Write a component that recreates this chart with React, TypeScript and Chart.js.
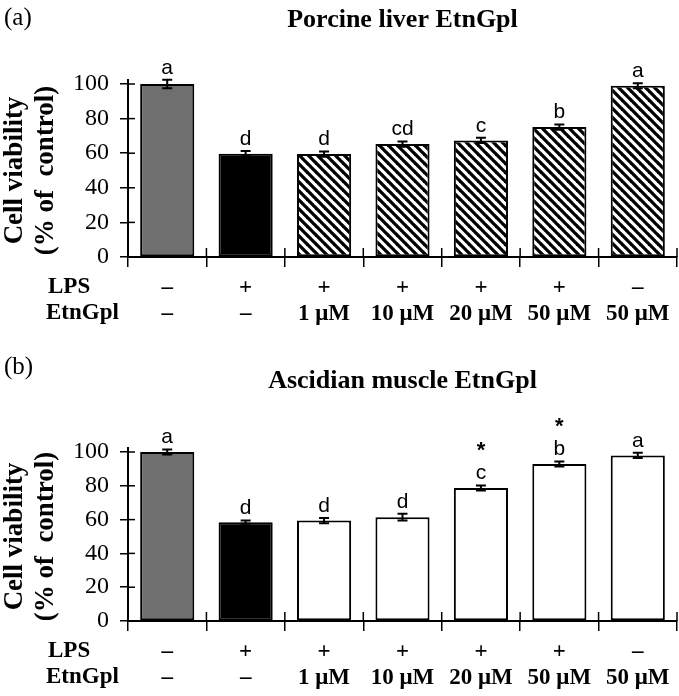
import React, { useEffect, useRef } from "react";
import { Chart, registerables } from "chart.js";
Chart.register(...registerables);

// ---------- data ----------
const categories = ["Control", "LPS", "LPS+1", "LPS+10", "LPS+20", "LPS+50", "50 only"];
const lpsRow = ["–", "+", "+", "+", "+", "+", "–"];
const etnRow = ["–", "–", "1 μM", "10 μM", "20 μM", "50 μM", "50 μM"];
const yTickValues = [0, 20, 40, 60, 80, 100];

const porcineValues = [100, 59.7, 59.5, 65.3, 67.4, 75.1, 99.0];
const porcineErrors = [2.5, 1.5, 1.5, 1.5, 1.5, 1.5, 1.5];
const porcineLetters = ["a", "d", "d", "cd", "c", "b", "a"];
const porcineStars = [false, false, false, false, false, false, false];

const ascidianValues = [100, 58.5, 59.4, 61.4, 78.7, 92.9, 98.0];
const ascidianErrors = [1.5, 1.0, 1.5, 2.0, 1.5, 1.5, 1.5];
const ascidianLetters = ["a", "d", "d", "d", "c", "b", "a"];
const ascidianStars = [false, false, false, false, true, true, false];

const SERIF = '"Liberation Serif", "Times New Roman", serif';
const SANS = '"Liberation Sans", Arial, sans-serif';

function makeHatch(): CanvasPattern | string {
  const s = 9;
  const c = document.createElement("canvas");
  c.width = s;
  c.height = s;
  const g = c.getContext("2d");
  if (!g) return "#fff";
  g.fillStyle = "#ffffff";
  g.fillRect(0, 0, s, s);
  g.strokeStyle = "#000000";
  g.lineWidth = 3.3;
  for (const k of [-1, 0, 1]) {
    g.beginPath();
    g.moveTo(-s + k * s, -s);
    g.lineTo(2 * s + k * s, 2 * s);
    g.stroke();
  }
  const p = g.createPattern(c, "repeat");
  return p || "#fff";
}

type PanelCfg = {
  panelLabel: string;
  panelLabelY: number;
  title: string;
  titlePadTop: number;
  titlePadBottom: number;
  height: number;
  xAxisHeight: number;
  values: number[];
  errors: number[];
  letters: string[];
  stars: boolean[];
  hatched: boolean;
};

function Panel({ cfg, top }: { cfg: PanelCfg; top: number }) {
  const ref = useRef<HTMLCanvasElement>(null);
  useEffect(() => {
    const canvas = ref.current;
    if (!canvas) return;
    const hatch = makeHatch();
    const fills = cfg.values.map((_, i) =>
      i === 0 ? "#6f6f6f" : i === 1 ? "#000000" : cfg.hatched ? hatch : "#ffffff"
    );

    const annot = {
      id: "annot",
      afterDraw(chart: any) {
        const ctx = chart.ctx as CanvasRenderingContext2D;
        const area = chart.chartArea;
        const ys = chart.scales.y;
        const meta = chart.getDatasetMeta(0);
        ctx.save();
        // error bars
        ctx.strokeStyle = "#000";
        ctx.lineWidth = 2;
        cfg.values.forEach((v, i) => {
          const x = meta.data[i].x;
          const yt = ys.getPixelForValue(v + cfg.errors[i]);
          const yb = ys.getPixelForValue(v - cfg.errors[i]);
          ctx.beginPath();
          ctx.moveTo(x, yt);
          ctx.lineTo(x, yb);
          ctx.moveTo(x - 5, yt);
          ctx.lineTo(x + 5, yt);
          ctx.moveTo(x - 5, yb);
          ctx.lineTo(x + 5, yb);
          ctx.stroke();
        });
        // inner tick halves
        ctx.lineWidth = 1.5;
        yTickValues.forEach((t) => {
          const y = ys.getPixelForValue(t);
          ctx.beginPath();
          ctx.moveTo(area.left, y);
          ctx.lineTo(area.left + 7, y);
          ctx.stroke();
        });
        // small extension of y axis line above the top tick
        ctx.lineWidth = 2;
        ctx.beginPath();
        ctx.moveTo(area.left, area.top);
        ctx.lineTo(area.left, area.top - 5);
        ctx.stroke();
        ctx.lineWidth = 1.5;
        const n = cfg.values.length;
        for (let i = 1; i <= n; i++) {
          const x = area.left + (i * (area.right - area.left)) / n;
          ctx.beginPath();
          ctx.moveTo(x, area.bottom);
          ctx.lineTo(x, area.bottom - 9);
          ctx.stroke();
        }
        // letters and stars
        ctx.fillStyle = "#000";
        ctx.textAlign = "center";
        ctx.textBaseline = "alphabetic";
        cfg.values.forEach((v, i) => {
          const x = meta.data[i].x;
          const base = ys.getPixelForValue(v + cfg.errors[i]) - 6;
          ctx.font = `21px ${SANS}`;
          ctx.fillText(cfg.letters[i], x, base);
          if (cfg.stars[i]) {
            ctx.font = `bold 22px ${SANS}`;
            ctx.fillText("*", x, base - 22);
          }
        });
        // panel label
        ctx.textAlign = "left";
        ctx.textBaseline = "middle";
        ctx.font = `25px ${SERIF}`;
        ctx.fillText(cfg.panelLabel, 4, cfg.panelLabelY);
        // row headers
        ctx.font = `bold 23px ${SERIF}`;
        ctx.fillText("LPS", 48, area.bottom + 30);
        ctx.fillText("EtnGpl", 46, area.bottom + 56);
        ctx.restore();
      },
    };

    const chart = new Chart(canvas, {
      type: "bar",
      data: {
        labels: categories,
        datasets: [
          {
            data: cfg.values,
            backgroundColor: fills as any,
            borderColor: "#000000",
            borderWidth: 2,
            borderSkipped: false,
            categoryPercentage: 1,
            barPercentage: 0.69,
          },
        ],
      },
      options: {
        responsive: false,
        devicePixelRatio: 1,
        animation: false,
        layout: { padding: { left: 0, right: 2, top: 0, bottom: 0 } },
        plugins: {
          legend: { display: false },
          tooltip: { enabled: false },
          title: {
            display: true,
            text: cfg.title,
            fullSize: false,
            color: "#000",
            font: { family: SERIF, size: 26, weight: "bold", lineHeight: "30px" },
            padding: { top: cfg.titlePadTop, bottom: cfg.titlePadBottom },
          },
        },
        scales: {
          x: {
            type: "category",
            offset: true,
            afterFit: (s: any) => {
              s.height = cfg.xAxisHeight;
            },
            border: { display: true, color: "#000", width: 2 },
            grid: {
              display: true,
              offset: true,
              drawOnChartArea: false,
              drawTicks: true,
              tickLength: 10,
              color: "#000",
              lineWidth: 1.5,
            },
            ticks: {
              autoSkip: false,
              maxRotation: 0,
              padding: 8,
              color: "#000",
              font: { family: SERIF, size: 23, weight: "bold", lineHeight: "26px" },
              callback: (_v: any, i: number) => [lpsRow[i], etnRow[i]],
            },
          },
          y: {
            min: 0,
            max: 100,
            afterFit: (s: any) => {
              s.width = 128;
            },
            afterBuildTicks: (s: any) => {
              s.ticks = yTickValues.map((v) => ({ value: v }));
            },
            border: { display: true, color: "#000", width: 2 },
            grid: {
              display: true,
              drawOnChartArea: false,
              drawTicks: true,
              tickLength: 8,
              color: "#000",
              lineWidth: 1.5,
            },
            ticks: {
              padding: 11,
              color: "#000",
              font: { family: SERIF, size: 24 },
            },
            title: {
              display: true,
              text: ["Cell viability", "(% of  control)"],
              color: "#000",
              font: { family: SERIF, size: 27, weight: "bold", lineHeight: "31px" },
              padding: { top: 0, bottom: 0 },
            },
          },
        },
      },
      plugins: [annot],
    } as any);
    return () => chart.destroy();
  }, [cfg]);
  return (
    <div style={{ position: "absolute", left: 0, top, width: 679, height: cfg.height }}>
      <canvas
        ref={ref}
        width={679}
        height={cfg.height}
        style={{ width: 679, height: cfg.height, display: "block" }}
      />
    </div>
  );
}

const panelA: PanelCfg = {
  panelLabel: "(a)",
  panelLabelY: 18,
  title: "Porcine liver EtnGpl",
  titlePadTop: 5,
  titlePadBottom: 49,
  height: 330,
  xAxisHeight: 73,
  values: porcineValues,
  errors: porcineErrors,
  letters: porcineLetters,
  stars: porcineStars,
  hatched: true,
};

const panelB: PanelCfg = {
  panelLabel: "(b)",
  panelLabelY: 37,
  title: "Ascidian muscle EtnGpl",
  titlePadTop: 36,
  titlePadBottom: 56,
  height: 366,
  xAxisHeight: 75,
  values: ascidianValues,
  errors: ascidianErrors,
  letters: ascidianLetters,
  stars: ascidianStars,
  hatched: false,
};

export default function App() {
  return (
    <div style={{ position: "absolute", left: 0, top: 0, width: 679, height: 696, background: "#fff" }}>
      <Panel cfg={panelA} top={0} />
      <Panel cfg={panelB} top={330} />
    </div>
  );
}
